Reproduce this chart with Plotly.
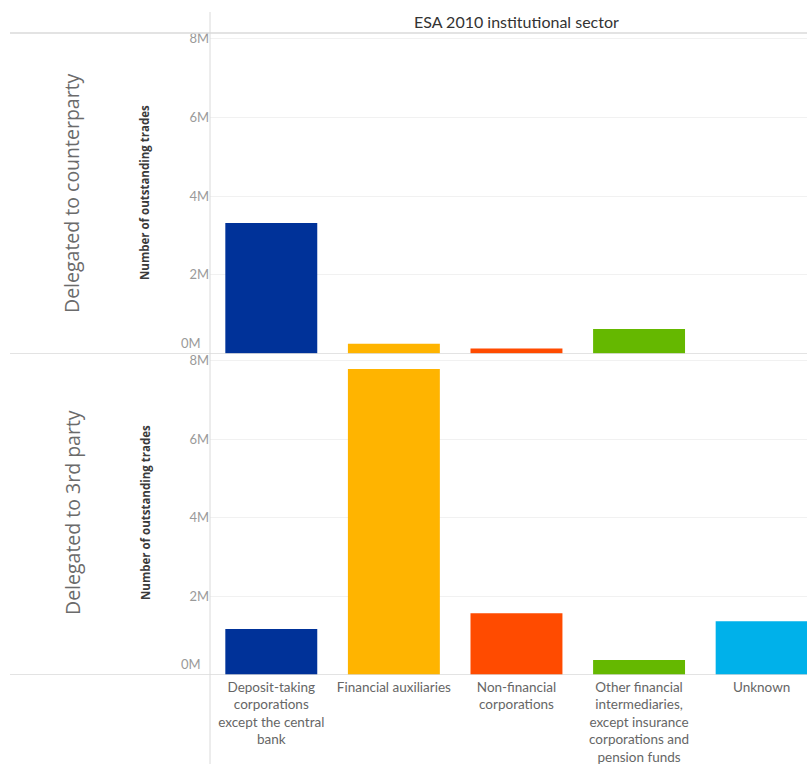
import plotly.graph_objects as go

# Categories (ESA 2010 institutional sector) and values per delegation type
sectors = [
    "Deposit-taking corporations except the central bank",
    "Financial auxiliaries",
    "Non-financial corporations",
    "Other financial intermediaries, except insurance corporations and pension funds",
    "Unknown",
]
sector_labels = [
    "Deposit-taking<br>corporations<br>except the central<br>bank",
    "Financial auxiliaries",
    "Non-financial<br>corporations",
    "Other financial<br>intermediaries,<br>except insurance<br>corporations and<br>pension funds",
    "Unknown",
]
sector_colors = ["#003299", "#FFB400", "#FF4B00", "#65B800", "#00B1EA"]

counterparty_trades = [3320000, 250000, 130000, 630000, 0]
third_party_trades = [1170000, 7790000, 1570000, 380000, 1370000]

row_names = ["Delegated to counterparty", "Delegated to 3rd party"]

y_tickvals = [2e6, 4e6, 6e6, 8e6]
y_ticktext = ["2M", "4M", "6M", "8M"]

W, H = 807, 764
FONT = "Lato"
TICK_GREY = "#9a9a9a"
LINE_GREY = "#dadada"
GRID_GREY = "#f1f1f1"


def px_x(v):
    return v / W


def px_y(v):
    return (H - v) / H


fig = go.Figure()

fig.add_trace(go.Bar(
    x=sectors, y=counterparty_trades, marker_color=sector_colors,
    marker_line_width=0, width=0.75, xaxis="x", yaxis="y",
    showlegend=False,
))
fig.add_trace(go.Bar(
    x=sectors, y=third_party_trades, marker_color=sector_colors,
    marker_line_width=0, width=0.75, xaxis="x2", yaxis="y2",
    showlegend=False,
))

x_domain = [px_x(210), 1.0]
x_range = [-0.5, 4.37]

yaxis_common = dict(
    tickvals=y_tickvals, ticktext=y_ticktext,
    tickfont=dict(family=FONT, size=13, color=TICK_GREY),
    showgrid=True, gridcolor=GRID_GREY, gridwidth=1,
    zeroline=False, showline=False, ticks="", fixedrange=True,
    automargin=False,
)

fig.update_layout(
    width=W, height=H,
    margin=dict(l=0, r=0, t=0, b=0),
    paper_bgcolor="white", plot_bgcolor="white",
    bargap=0.25,
    xaxis=dict(
        domain=x_domain, range=x_range, anchor="y", automargin=False,
        showticklabels=False, showgrid=False, zeroline=False, ticks="",
        categoryorder="array", categoryarray=sectors,
    ),
    xaxis2=dict(
        domain=x_domain, range=x_range, anchor="y2", automargin=False,
        tickmode="array", tickvals=sectors, ticktext=sector_labels,
        tickfont=dict(family=FONT, size=13.5, color="#666666"),
        ticklabelstandoff=2,
        showgrid=False, zeroline=False, ticks="", tickangle=0,
        categoryorder="array", categoryarray=sectors,
    ),
    yaxis=dict(domain=[px_y(353.7), px_y(33)], range=[0, 8.14e6],
               anchor="x", **yaxis_common),
    yaxis2=dict(domain=[px_y(675), px_y(353.7)], range=[0, 8.178e6],
                anchor="x2", **yaxis_common),
)

shapes = [
    # header rule and left divider
    dict(type="line", xref="paper", yref="paper", x0=px_x(10), x1=1,
         y0=px_y(33), y1=px_y(33), line=dict(color=LINE_GREY, width=1.5)),
    dict(type="line", xref="paper", yref="paper", x0=px_x(210), x1=px_x(210),
         y0=px_y(12), y1=0, line=dict(color=LINE_GREY, width=1)),
    # baselines of both panes
    dict(type="line", xref="paper", yref="y", x0=px_x(10), x1=1,
         y0=0, y1=0, line=dict(color=LINE_GREY, width=1.5)),
    dict(type="line", xref="paper", yref="y2", x0=px_x(10), x1=1,
         y0=0, y1=0, line=dict(color=LINE_GREY, width=1.5)),
]
fig.update_layout(shapes=shapes)

annotations = [
    dict(text="ESA 2010 institutional sector", xref="paper", yref="paper",
         x=px_x(516), y=px_y(22), showarrow=False,
         font=dict(family=FONT, size=16, color="#333333"),
         xanchor="center", yanchor="middle"),
]
for name, yref, yc in [(row_names[0], "y", 193), (row_names[1], "y2", 513)]:
    annotations.append(dict(
        text=name, xref="paper", yref="paper", x=px_x(72), y=px_y(yc),
        textangle=-90, showarrow=False, xanchor="center", yanchor="middle",
        font=dict(family="Open Sans", size=19.5, color="#6b6b6b")))
    annotations.append(dict(
        text="<b>Number of outstanding trades</b>", xref="paper", yref="paper",
        x=px_x(145), y=px_y(yc), textangle=-90, showarrow=False,
        xanchor="center", yanchor="middle",
        font=dict(family="Open Sans", size=11.5, color="#3a3a3a")))
    # zero label sits just above the baseline
    annotations.append(dict(
        text="0M", xref="paper", yref=yref, x=px_x(203), y=0,
        xanchor="right", yanchor="bottom", showarrow=False, yshift=1,
        font=dict(family=FONT, size=13, color=TICK_GREY)))
fig.update_layout(annotations=annotations)

fig.write_html("out.html")
